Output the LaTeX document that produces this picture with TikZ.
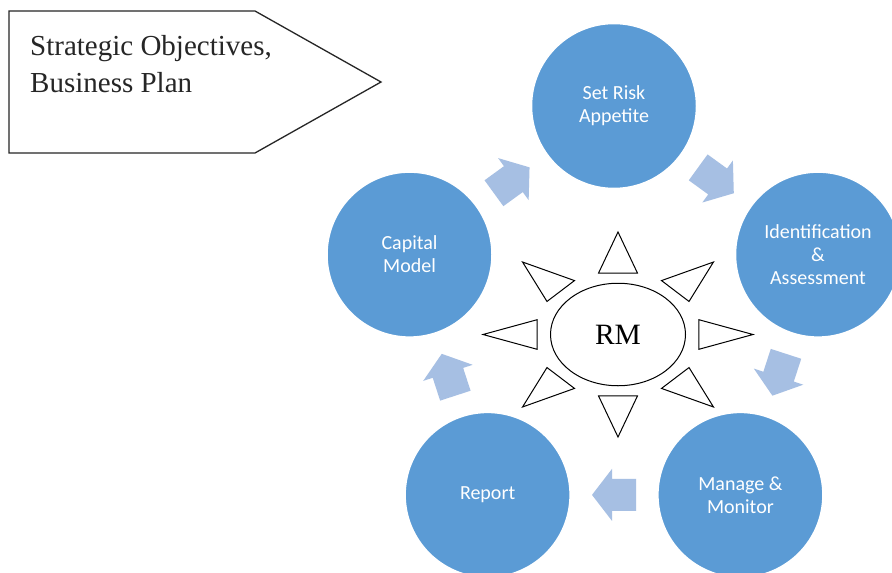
\documentclass[tikz,border=0pt]{standalone}
\usepackage{fontspec}
\setmainfont{Liberation Serif}
\newfontfamily\cfont{Carlito}
\usetikzlibrary{shapes.geometric,calc}
\definecolor{cblue}{HTML}{5B9BD5}
\definecolor{ablue}{HTML}{A6BFE3}
\begin{document}
\begin{tikzpicture}[x=1pt,y=-1pt,
  stage/.style={circle, fill=cblue, draw=white, line width=1.5pt, minimum size=165pt,
    inner sep=0pt, text=white, font=\cfont\fontsize{20}{23}\selectfont, align=center},
  cycarrow/.style={fill=ablue},
  ray/.style={draw=black, line width=1pt, fill=white, line join=miter},
  objtext/.style={anchor=base west, inner sep=0pt, font=\fontsize{29}{37}\selectfont, text=black!85}]
\useasboundingbox (0,0) rectangle (892,573);
\clip (0,0) rectangle (892,573);
\fill[white] (0,0) rectangle (892,573);

% objectives pentagon
\draw[line width=1.3pt, draw=black!85] (9,11) -- (255,11) -- (381,82) -- (255,153) -- (9,153) -- cycle;
\node[objtext] (obj1) at (30,55) {Strategic Objectives,};
\node[objtext] (obj2) at (30,92) {Business Plan};

% cycle stages
\node[stage] (sra) at (614,106) {Set Risk\\Appetite};
\node[stage] (ida) at (818,254.6) {Identification\\\&\\Assessment};
\node[stage] (mm)  at (740.4,494.9) {Manage \&\\Monitor};
\node[stage] (rep) at (487.6,494.9) {Report};
\node[stage] (cap) at (409.5,254.6) {Capital\\Model};

% block arrows between stages
\foreach \a/\b/\r in {cap/sra/36, sra/ida/-36, ida/mm/-108, mm/rep/180, rep/cap/108}
  \fill[cycarrow, shift={($(\a)!0.5!(\b)$)}, rotate=\r]
    (-22,-16) -- (2,-16) -- (2,-26) -- (22,0) -- (2,26) -- (2,16) -- (-22,16) -- cycle;

% RM sun
\node[ellipse, draw, line width=1pt, minimum width=135pt, minimum height=102.5pt,
  inner sep=0pt, font=\fontsize{29.5}{30}\selectfont] (rm) at (618,334.5) {RM};
\begin{scope}[shift={(rm.center)}, xscale=135, yscale=102.5]
  \foreach \t in {0,45,...,315}
    \draw[ray] (\t:1) -- (\t+13.5:0.617) -- (\t-13.5:0.617) -- cycle;
\end{scope}
\end{tikzpicture}
\end{document}
